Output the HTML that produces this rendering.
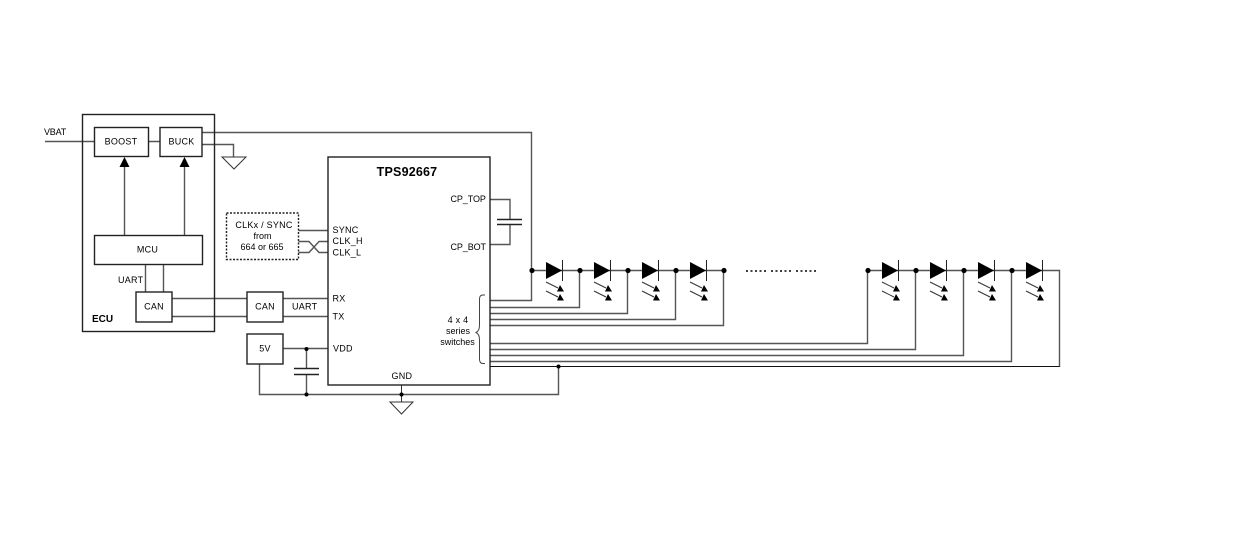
<!DOCTYPE html>
<html><head><meta charset="utf-8"><style>
html,body{margin:0;padding:0;background:#fff;width:1252px;height:555px;overflow:hidden}
svg{display:block}
text{font-family:"Liberation Sans",sans-serif;font-size:9px;fill:#000;letter-spacing:.25px}
.b{font-weight:bold}
</style></head><body>
<svg width="1252" height="555" viewBox="0 0 1252 555" xmlns="http://www.w3.org/2000/svg">
<defs>
<g id="led">
<path d="M0 -8.5L16 0L0 8.5Z" fill="#000"/>
<path d="M16.5 -10.5V10.5" stroke="#222" stroke-width="1" fill="none"/>
<path d="M0 11.5L12 17.5M0 20.5L12 26.5" stroke="#333" stroke-width="1" fill="none"/>
<path d="M18 21L11 21L14 14.5Z M18 30L11 30L14 23.5Z" fill="#000"/>
</g>
</defs>
<g fill="none" stroke="#555" stroke-width="1.4">
<path d="M45 141.5H94M148 141.5H160"/>
<path d="M202 132.5H531.5V300.5H490"/>
<path d="M202 144.5H233.5V157"/>
<path d="M124.5 235V166M184.5 235V166"/>
<path d="M145.5 264V292M163.5 264V292"/>
<path d="M172 298.5H247M172 316.5H247"/>
<path d="M283 298.5H328M283 316.5H328"/>
<path d="M283 348.5H328"/>
<path d="M259.5 364V394.5H558.5V367"/>
<path d="M306.5 349V368M306.5 374V394"/>
<path d="M298 230.5H328"/>
<path d="M298 241.5H309L319 252.5H328M298 252.5H309L319 241.5H328"/>
<path d="M490 199.5H510V219M510 225V244.5H490"/>
<path d="M532 270.5H724M868 270.5H1059.5V367"/>
<path d="M490 307.5H579.5V271"/>
<path d="M490 313.5H627.5V271"/>
<path d="M490 319.5H675.5V271"/>
<path d="M490 325.5H723.5V271"/>
<path d="M490 343.5H867.5V271"/>
<path d="M490 349.5H915.5V271"/>
<path d="M490 355.5H963.5V271"/>
<path d="M490 361.5H1011.5V271"/>
</g>
<path d="M490 366.5H1059.5" stroke="#111" stroke-width="1" fill="none"/>
<path d="M401.5 385V402" stroke="#333" stroke-width="1" fill="none"/>
<g fill="none" stroke="#222" stroke-width="1.4">
<rect x="82.5" y="114.5" width="132" height="217"/>
<rect x="94.5" y="127.5" width="54" height="29" fill="#fff"/>
<rect x="160" y="127.5" width="42" height="29" fill="#fff"/>
<rect x="94.5" y="235.5" width="108" height="29"/>
<rect x="136" y="292" width="36" height="30" fill="#fff"/>
<rect x="247" y="292" width="36" height="30" fill="#fff"/>
<rect x="247" y="334" width="36" height="30" fill="#fff"/>
<rect x="328" y="157" width="162" height="228"/>
<path d="M222 157H246L234 169Z M390 402H413L401.5 414Z" stroke="#333" stroke-width="1"/>
<path d="M294 368.5H319M294 374.5H319M497 219.5H522M497 224.5H522" stroke="#222"/>
</g>
<rect x="226.5" y="213" width="72" height="46.5" fill="#fff" stroke="#222" stroke-width="1.4" stroke-dasharray="2 1.5"/>
<path d="M485 295H483Q479.5 295 479.5 299V325Q479.5 331 476 332.5Q479.5 334 479.5 340V359Q479.5 363.5 483 363.5H485" fill="none" stroke="#444" stroke-width="1"/>
<path d="M119.5 167L124.5 157L129.5 167ZM179.5 167L184.5 157L189.5 167Z" fill="#000"/>
<use href="#led" x="546" y="270.5"/>
<use href="#led" x="594" y="270.5"/>
<use href="#led" x="642" y="270.5"/>
<use href="#led" x="690" y="270.5"/>
<use href="#led" x="882" y="270.5"/>
<use href="#led" x="930" y="270.5"/>
<use href="#led" x="978" y="270.5"/>
<use href="#led" x="1026" y="270.5"/>
<g fill="#000">
<circle cx="532" cy="270.5" r="2.6"/><circle cx="580" cy="270.5" r="2.6"/><circle cx="628" cy="270.5" r="2.6"/><circle cx="676" cy="270.5" r="2.6"/><circle cx="724" cy="270.5" r="2.6"/>
<circle cx="868" cy="270.5" r="2.6"/><circle cx="916" cy="270.5" r="2.6"/><circle cx="964" cy="270.5" r="2.6"/><circle cx="1012" cy="270.5" r="2.6"/>
<circle cx="558.5" cy="366.5" r="2"/><circle cx="306.5" cy="349" r="2"/><circle cx="306.5" cy="394.5" r="2"/><circle cx="401.5" cy="394.5" r="2"/>
</g>
<path d="M746 271H766M771 271H791M796 271H816" stroke="#000" stroke-width="1.6" stroke-dasharray="2 2.5" fill="none"/>
<text x="44" y="135" style="letter-spacing:-.2px">VBAT</text>
<text x="121" y="144.5" text-anchor="middle">BOOST</text>
<text x="181.5" y="144.5" text-anchor="middle">BUCK</text>
<text x="147.5" y="252.5" text-anchor="middle">MCU</text>
<text x="118" y="283">UART</text>
<text x="154" y="309.5" text-anchor="middle">CAN</text>
<text x="265" y="309.5" text-anchor="middle">CAN</text>
<text x="292" y="309.5">UART</text>
<text x="265" y="351.5" text-anchor="middle">5V</text>
<text x="92" y="322" class="b" style="font-size:10px;letter-spacing:0">ECU</text>
<text x="264" y="228" text-anchor="middle">CLKx / SYNC</text>
<text x="262.5" y="239" text-anchor="middle" style="letter-spacing:0">from</text>
<text x="262" y="250" text-anchor="middle" style="letter-spacing:0">664 or 665</text>
<text x="332.5" y="233">SYNC</text>
<text x="332.5" y="244">CLK_H</text>
<text x="332.5" y="255.5">CLK_L</text>
<text x="332.5" y="301.5">RX</text>
<text x="332.5" y="319.5">TX</text>
<text x="333" y="351.5">VDD</text>
<text x="391.5" y="379">GND</text>
<text x="407" y="176" text-anchor="middle" class="b" style="font-size:12.5px;letter-spacing:.2px">TPS92667</text>
<text x="450.5" y="202" style="letter-spacing:-.1px">CP_TOP</text>
<text x="450.5" y="250" style="letter-spacing:-.1px">CP_BOT</text>
<text x="458" y="323" text-anchor="middle">4 x 4</text>
<text x="458" y="334" text-anchor="middle" style="letter-spacing:0">series</text>
<text x="457.5" y="345" text-anchor="middle" style="letter-spacing:0">switches</text>
</svg>
</body></html>
